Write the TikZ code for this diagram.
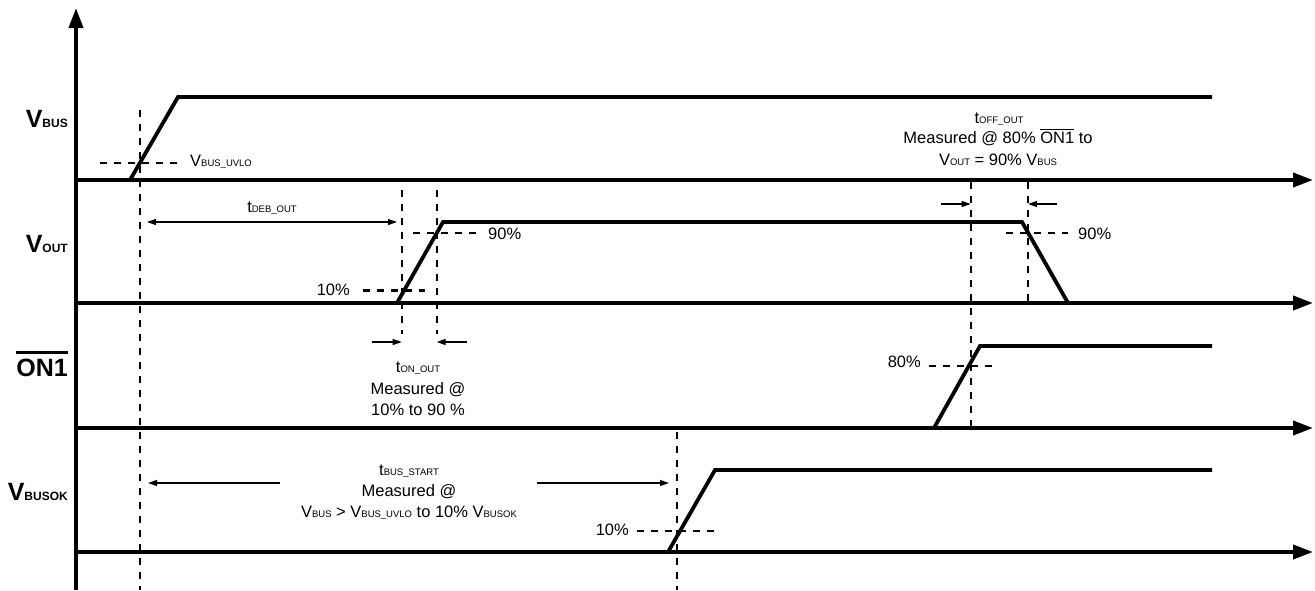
\documentclass[tikz,border=0pt]{standalone}
\usepackage{fontspec}
\setmainfont{Liberation Sans}
\usetikzlibrary{arrows.meta}
\newcommand\sbs[1]{{\fontsize{9.5}{10}\selectfont #1}}
\newcommand\bsb[1]{{\fontsize{12}{12}\selectfont\bfseries #1}}
\newcommand\ovlt[3]{\vbox{\hrule height #1\kern #2\hbox{#3}}}
\begin{document}
\begin{tikzpicture}[x=1pt,y=-1pt,
  wave/.style={line width=3.8pt, line join=miter},
  axis/.style={line width=3.8pt,-{Triangle[length=20pt,width=14pt]}},
  dsh/.style={line width=2.3pt, dash pattern=on 7pt off 7pt},
  dim/.style={line width=1.3pt, >={Triangle[length=9pt,width=6pt]}},
  lbl/.style={inner sep=0pt, font=\fontsize{16.5}{20}\selectfont},
  sig/.style={inner sep=0pt, font=\fontsize{25}{25}\selectfont\bfseries, anchor=base east}]
\useasboundingbox (0,0) rectangle (1315,590);

% axes
\coordinate (o0) at (76,590);
\coordinate (yt) at (76,8);
\draw[axis] (o0) -- (yt);
\foreach \n/\y in {a/180,b/303,c/428,d/552}{
  \coordinate (\n0) at (74,\y);
  \coordinate (\n1) at (1313,\y);
  \draw[axis] (\n0) -- (\n1);
}

% waveforms
\draw[wave] (130,180) -- (178,97) -- (1212,97);
\draw[wave] (397,303) -- (443,222) -- (1022,222) -- (1068,303);
\draw[wave] (934,428) -- (980,346) -- (1212,346);
\draw[wave] (668,552) -- (715,470) -- (1212,470);

% dashed verticals
\draw[dsh] (140,110) -- (140,590);
\draw[dsh] (401.7,190) -- (401.7,334);
\draw[dsh] (436.7,190) -- (436.7,334);
\draw[dsh] (970.7,182) -- (970.7,428);
\draw[dsh] (1028,182) -- (1028,303);
\draw[dsh] (677,432) -- (677,590);

% dashed horizontals
\draw[dsh] (100,163) -- (180,163);
\draw[dsh] (413,233) -- (477,233);
\draw[dsh] (363,290.5) -- (425,290.5);
\draw[dsh] (1006,233) -- (1068,233);
\draw[dsh] (929,365.7) -- (992,365.7);
\draw[dsh] (637,530.7) -- (718,530.7);

% dimension arrows
\draw[dim,<->] (147,222) -- (397,222);
\draw[dim,->] (372,342) -- (401.7,342);
\draw[dim,->] (466.7,342) -- (436.7,342);
\draw[dim,->] (941,204) -- (970.7,204);
\draw[dim,->] (1057,204) -- (1028,204);
\draw[dim,->] (280,483) -- (148,483);
\draw[dim,->] (537,483) -- (669,483);

% signal labels
\node[sig] (lbus) at (68,127) {V\bsb{BUS}};
\node[sig] (lout) at (68,252) {V\bsb{OUT}};
\node[sig] (lon) at (68,376) {\ovlt{2.7pt}{5pt}{ON1}};
\node[sig] (lok) at (68,500) {V\bsb{BUSOK}};

% annotations
\node[lbl,anchor=base west] (uvlo) at (190,166) {V\sbs{BUS\_UVLO}};
\node[lbl,anchor=base] (deb) at (272,212) {t\sbs{DEB\_OUT}};
\node[lbl,anchor=base west] (p90a) at (488,239) {90\%};
\node[lbl,anchor=base east] (p10a) at (350,295) {10\%};
\node[lbl,anchor=base] (ton1) at (418,372) {t\sbs{ON\_OUT}};
\node[lbl,anchor=base] (ton2) at (418,394) {Measured @};
\node[lbl,anchor=base] (ton3) at (418,415) {10\% to 90 \%};
\node[lbl,anchor=base] (toff1) at (999,123) {t\sbs{OFF\_OUT}};
\node[lbl,anchor=base] (toff2) at (998,143) {Measured @ 80\% \ovlt{1pt}{1.5pt}{ON1} to};
\node[lbl,anchor=base] (toff3) at (998,165) {V\sbs{OUT} = 90\% V\sbs{BUS}};
\node[lbl,anchor=base west] (p90b) at (1078,239) {90\%};
\node[lbl,anchor=base east] (p80) at (921,367) {80\%};
\node[lbl,anchor=base] (tbs1) at (409,475) {t\sbs{BUS\_START}};
\node[lbl,anchor=base] (tbs2) at (409,496) {Measured @};
\node[lbl,anchor=base] (tbs3) at (409,517) {V\sbs{BUS} > V\sbs{BUS\_UVLO} to 10\% V\sbs{BUSOK}};
\node[lbl,anchor=base east] (p10b) at (629,535) {10\%};
\end{tikzpicture}
\end{document}
